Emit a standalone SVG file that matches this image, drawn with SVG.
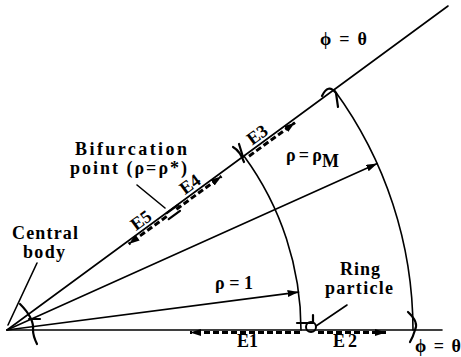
<svg xmlns="http://www.w3.org/2000/svg" width="461" height="357" viewBox="0 0 461 357">
<style>
.ln{stroke:#000;stroke-width:1.6;fill:none;stroke-linecap:round}
.dash{stroke:#000;stroke-width:3;fill:none;stroke-dasharray:6 3}
.mk{stroke:#000;stroke-width:2.2;fill:none;stroke-linecap:round}
text{font-family:"Liberation Serif","Times New Roman",serif;font-weight:bold;font-size:18px;fill:#000}
</style>
<defs>
<marker id="ah" markerUnits="userSpaceOnUse" markerWidth="12" markerHeight="8" refX="11" refY="3.5" orient="auto">
<path d="M0,0 L11,3.5 L0,7 z" fill="#000"/>
</marker>
</defs>
<rect width="461" height="357" fill="#fff"/>
<g id="connectors">
<line class="ln" x1="7" y1="330" x2="442" y2="330"/>
<line class="ln" x1="7" y1="330" x2="448" y2="6"/>
<path class="ln" d="M244.3,156.5 A294,294 0 0 1 301,330"/>
<path class="ln" d="M334.6,90.5 A406,406 0 0 1 413,330"/>
<line class="ln" x1="7" y1="330" x2="377.3" y2="163.5" marker-end="url(#ah)"/>
<line class="ln" x1="7" y1="330" x2="298.6" y2="292.1" marker-end="url(#ah)"/>
<line class="dash" x1="249" y1="156.2" x2="295" y2="122.6" marker-end="url(#ah)"/>
<line class="dash" x1="176.4" y1="209.3" x2="221.5" y2="176.2" marker-end="url(#ah)"/>
<line class="dash" x1="166.7" y1="216.4" x2="128.7" y2="244.1" marker-end="url(#ah)"/>
<line class="dash" x1="300" y1="332.5" x2="190" y2="332.5" marker-end="url(#ah)"/>
<line class="dash" x1="318" y1="332.5" x2="386" y2="332.5" marker-end="url(#ah)"/>
<line class="ln" x1="37" y1="263" x2="8" y2="325"/>
<line class="ln" x1="137" y1="185" x2="165" y2="208"/>
<line class="ln" x1="347" y1="305" x2="316" y2="326"/>
</g>
<g id="central-body">
<path class="mk" d="M20,304 C28,312 34,322 33,330 C33,336 35,340 37,344"/>
<line class="mk" x1="29" y1="319" x2="40" y2="319"/>
<text x="12" y="239" font-size="17" textLength="66" lengthAdjust="spacing">Central</text>
<text x="23" y="258" font-size="17" textLength="42" lengthAdjust="spacing">body</text>
</g>
<g id="bifurcation-point">
<line class="mk" stroke-width="3" x1="166.8" y1="213.2" x2="178.1" y2="204.9"/>
<line class="mk" stroke-width="3" x1="168.7" y1="219.2" x2="180" y2="210.9"/>
<text x="75" y="155" textLength="112" lengthAdjust="spacing">Bifurcation</text>
<text x="70" y="174" textLength="117" lengthAdjust="spacing">point (ρ=ρ*)</text>
</g>
<g id="ring-particle">
<line class="mk" x1="297" y1="323" x2="313" y2="323"/>
<circle cx="311" cy="327" r="5" fill="none" stroke="#000" stroke-width="2"/>
<line class="mk" x1="313" y1="315" x2="313" y2="322"/>
<text x="340" y="275" textLength="40" lengthAdjust="spacing">Ring</text>
<text x="325" y="294" textLength="68" lengthAdjust="spacing">particle</text>
</g>
<g id="inner-mark">
<path class="mk" d="M233,147 Q240,151 244,162"/>
<line class="mk" x1="239" y1="144" x2="243" y2="157"/>
</g>
<g id="outer-mark">
<path class="mk" d="M322,96 Q328,83 336,93 L338,107"/>
</g>
<g id="bottom-mark">
<path class="mk" d="M408,312 Q419,322 415,330 Q413,337 410,342"/>
</g>
<g id="labels">
<text x="320" y="45" textLength="47" lengthAdjust="spacing">ϕ = θ</text>
<text x="415" y="352" textLength="46" lengthAdjust="spacing">ϕ = θ</text>
<text x="286" y="161" textLength="36" lengthAdjust="spacing">ρ=ρ</text>
<text x="322" y="167" font-size="13" textLength="15" lengthAdjust="spacing">M</text>
<text x="215" y="289" textLength="38" lengthAdjust="spacing">ρ=1</text>
<text x="237" y="347" textLength="21" lengthAdjust="spacing">E1</text>
<text x="333" y="347" textLength="24" lengthAdjust="spacing">E2</text>
<text transform="translate(257,134.5) rotate(-36.2)" text-anchor="middle" dy="0.35em">E3</text>
<text transform="translate(189.7,184) rotate(-36.2)" text-anchor="middle" dy="0.35em">E4</text>
<text transform="translate(140.7,220) rotate(-36.2)" text-anchor="middle" dy="0.35em">E5</text>
</g>
</svg>
